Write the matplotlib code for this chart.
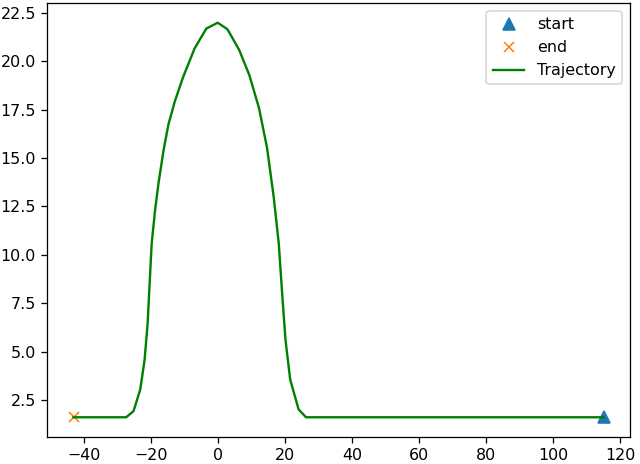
import matplotlib
matplotlib.use('Agg')
import matplotlib.pyplot as plt

# trajectory points, from start (right) to end (left)
traj_x = [115, 26.3, 24.1, 21.6, 20.2, 19.2, 18.2, 16.7, 14.7, 12.3, 9.4, 6.4, 2.9, 0.0,
          -3.4, -6.9, -10.3, -12.8, -14.7, -16.2, -17.7, -18.7, -19.7, -20.2, -20.9,
          -21.8, -23.1, -25.1, -27.3, -43]
traj_y = [1.6, 1.6, 2.01, 3.55, 5.6, 8.0, 10.57, 12.97, 15.53, 17.59, 19.3, 20.59, 21.66, 22.0,
          21.7, 20.67, 19.2, 17.93, 16.74, 15.36, 13.65, 12.28, 10.57, 8.86, 6.46,
          4.58, 3.04, 1.92, 1.6, 1.6]
start = (115, 1.6)
end = (-43, 1.6)

dpi = 114
fig = plt.figure(figsize=(640 / dpi, 464 / dpi), dpi=dpi)
ax = fig.add_axes([47 / 640, 1 - 437 / 464, (630 - 47) / 640, (437 - 3) / 464])

ax.plot(start[0], start[1], marker='^', markersize=7.5, linestyle='', color='C0', label='start')
ax.plot(end[0], end[1], marker='x', linestyle='', color='C1', label='end')
ax.plot(traj_x, traj_y, color='green', label='Trajectory')
ax.legend()

fig.savefig('out.png', dpi=dpi)
